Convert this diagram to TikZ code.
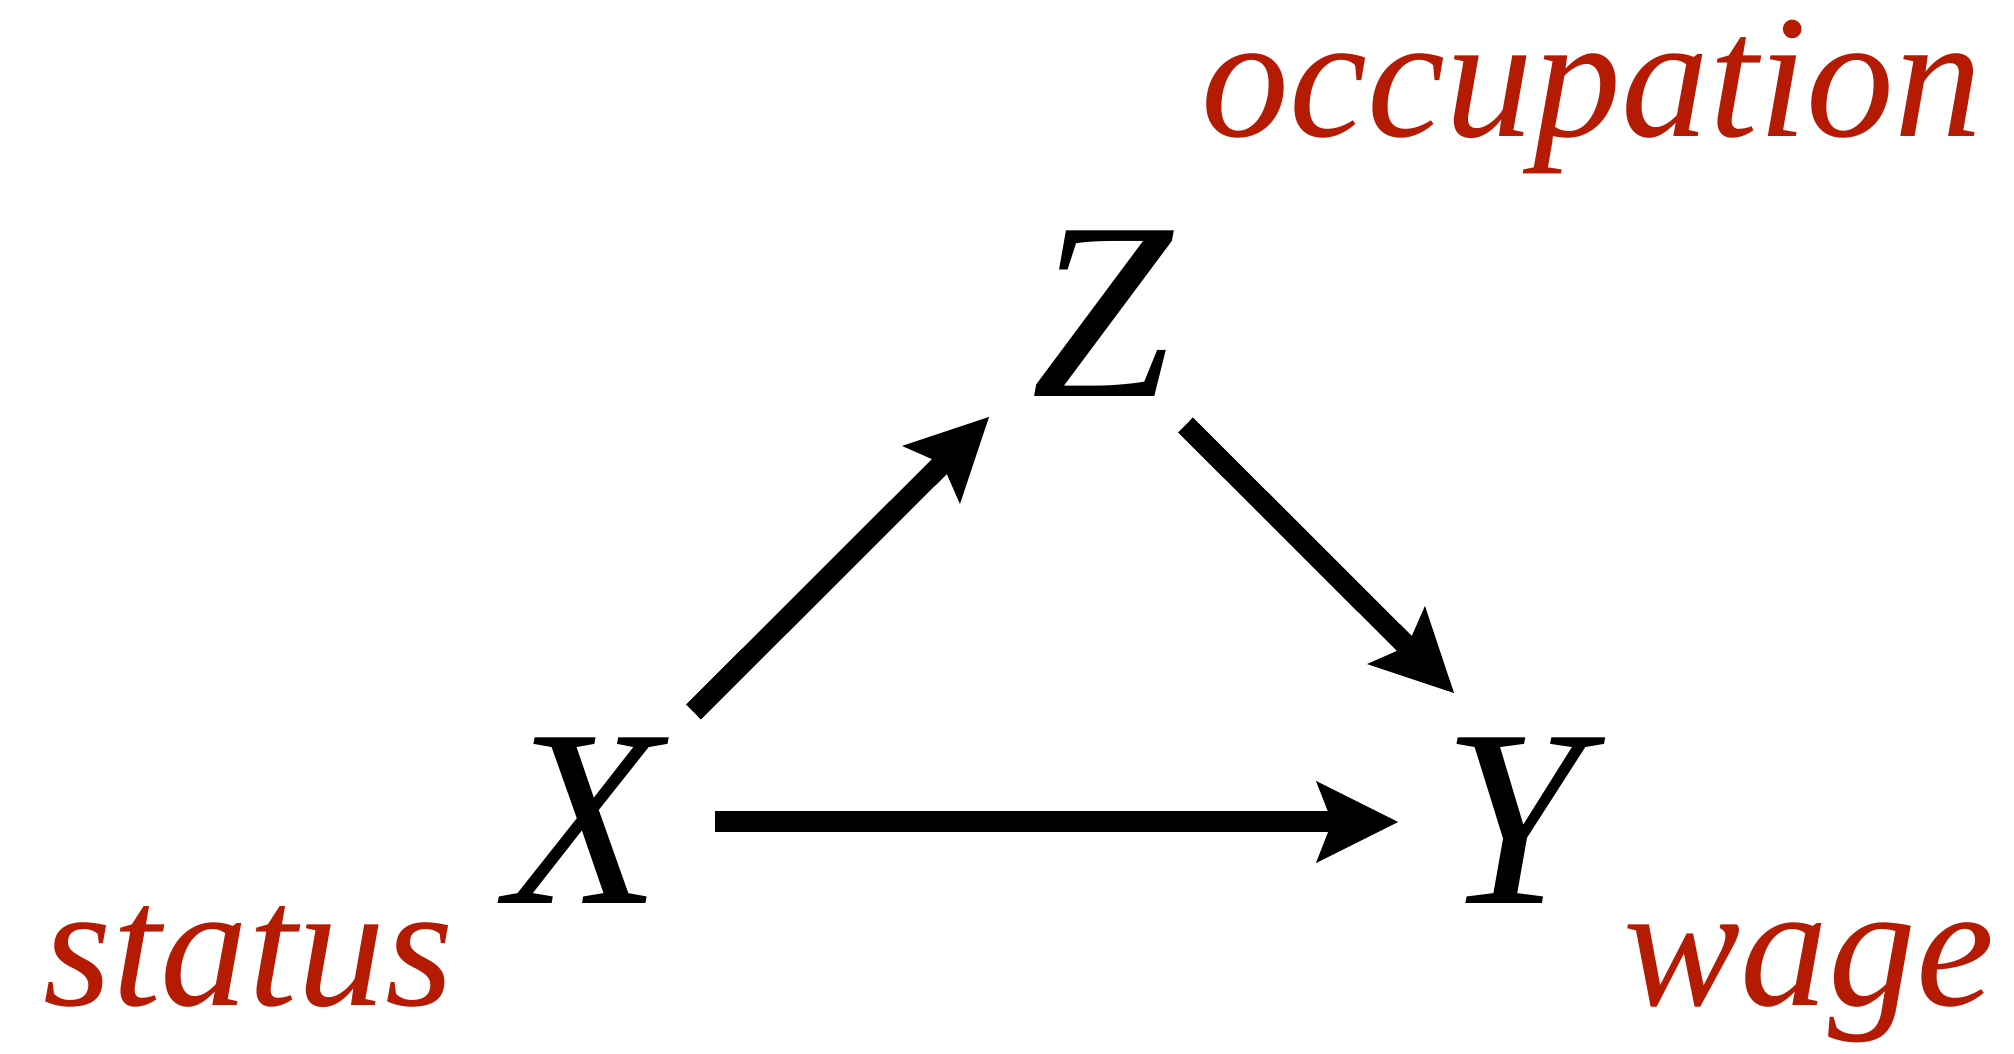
\documentclass[tikz,border=0pt]{standalone}
\usepackage{fontspec}
\setmainfont{Liberation Serif}
\usetikzlibrary{arrows.meta,calc}
\definecolor{DagRed}{RGB}{181,26,2}
\tikzset{
  dag/var/.style={
    font=\fontsize{72}{72}\selectfont\itshape,
    inner sep=0pt,
    anchor=base
  },
  dag/label/.style={
    font=\fontsize{50}{50}\selectfont\itshape,
    text=DagRed,
    inner sep=0pt,
    anchor=base west
  },
  dag/arrow/.style={-{Stealth[length=8.2mm,width=8.2mm,inset=1.6mm,line width=0pt]}, line width=2.1mm, draw=black}
}

\begin{document}
\begin{tikzpicture}[x=1cm,y=1cm]
  \useasboundingbox (0,0) rectangle (20.14,10.53);
  \node[dag/var] (x) at (5.84,1.49) {X};
  \node[dag/var] (y) at (15.13,1.49) {Y};
  \node[dag/var] (z) at (11.02,6.56) {Z};
  \node[dag/label] (status) at (0.43,0.48) {status};
  \node[dag/label] (wage) at (16.23,0.48) {wage};
  \node[dag/label] (occupation) at (12.01,9.16) {occupation};
  \draw[dag/arrow] ($(x.base)+(1.31,0.82)$) -- ($(y.base)+(-1.15,0.82)$);
  \draw[dag/arrow] ($(x.base)+(1.095,1.92)$) -- ($(z.base)+(-1.13,-0.20)$);
  \draw[dag/arrow] ($(z.base)+(0.835,-0.28)$) -- ($(y.base)+(-0.59,2.11)$);
\end{tikzpicture}
\end{document}
